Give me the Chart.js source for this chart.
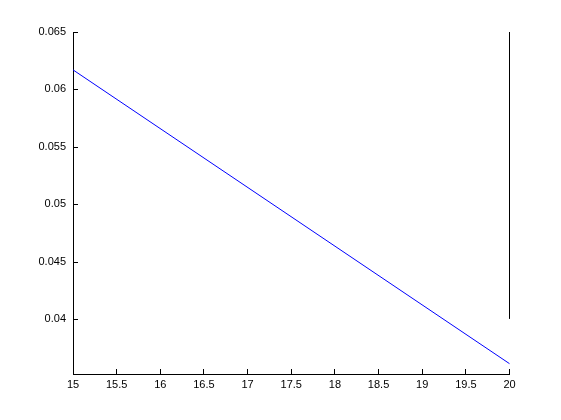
<!DOCTYPE html>
<html lang="en">
<head>
  <meta charset="UTF-8">
  <title>Line plot</title>
  <style>
    html, body { margin: 0; padding: 0; background: #fff; }
    #wrap { width: 561px; height: 420px; }
  </style>
</head>
<body>
  <div id="wrap"><canvas id="myChart" width="561" height="420"></canvas></div>

  <script src="https://cdn.jsdelivr.net/npm/chart.js"></script>
  <script>
    // data
    const lineX = [15, 20];
    const lineY = [0.0617, 0.0361];
    const markX = [20, 20];
    const markY = [0.04, 0.065];
    const xTicks = [15, 15.5, 16, 16.5, 17, 17.5, 18, 18.5, 19, 19.5, 20];
    const yTicks = [0.04, 0.045, 0.05, 0.055, 0.06, 0.065];

    const toPoints = (xs, ys) => xs.map((x, i) => ({ x: x, y: ys[i] }));

    // matlab style ticks pointing into the plot
    const innerTicks = {
      id: 'innerTicks',
      afterDraw(chart) {
        const ctx = chart.ctx;
        const area = chart.chartArea;
        const xs = chart.scales.x;
        const ys = chart.scales.y;
        ctx.save();
        ctx.strokeStyle = '#000';
        ctx.lineWidth = 1;
        ctx.beginPath();
        xTicks.forEach(v => {
          const px = Math.floor(xs.getPixelForValue(v)) + 0.5;
          ctx.moveTo(px, area.bottom);
          ctx.lineTo(px, area.bottom - 5);
        });
        yTicks.forEach(v => {
          const py = Math.round(ys.getPixelForValue(v)) + 0.5;
          ctx.moveTo(area.left, py);
          ctx.lineTo(area.left + 5, py);
        });
        ctx.stroke();
        ctx.restore();
      }
    };

    const font = { family: 'Arial, "Liberation Sans", sans-serif', size: 11 };
    const plain = v => String(Math.round(v * 10000) / 10000);

    const ctx = document.getElementById('myChart').getContext('2d');
    const myChart = new Chart(ctx, {
      type: 'scatter',
      data: {
        datasets: [
          {
            data: toPoints(lineX, lineY),
            showLine: true,
            borderColor: '#0000ff',
            borderWidth: 1,
            pointRadius: 0,
            clip: false
          },
          {
            data: toPoints(markX, markY),
            showLine: true,
            borderColor: '#000000',
            borderWidth: 1,
            pointRadius: 0,
            clip: false
          }
        ]
      },
      options: {
        responsive: false,
        animation: false,
        layout: { padding: { top: 32, right: 51.5, left: 0, bottom: 0 } },
        plugins: { legend: { display: false }, tooltip: { enabled: false } },
        scales: {
          x: {
            type: 'linear',
            min: 15,
            max: 20,
            afterBuildTicks: s => { s.ticks = xTicks.map(v => ({ value: v })); },
            afterFit: s => { s.height = 46; },
            grid: { drawOnChartArea: false, drawTicks: false },
            border: { color: '#000', width: 1 },
            ticks: { color: '#000', font: font, padding: 4, maxRotation: 0, callback: plain }
          },
          y: {
            type: 'linear',
            min: 0.0352,
            max: 0.065,
            afterBuildTicks: s => { s.ticks = yTicks.map(v => ({ value: v })); },
            afterFit: s => { s.width = 73; },
            grid: { drawOnChartArea: false, drawTicks: false },
            border: { color: '#000', width: 1 },
            ticks: { color: '#000', font: font, padding: 7, callback: plain }
          }
        }
      },
      plugins: [innerTicks]
    });
  </script>
</body>
</html>
